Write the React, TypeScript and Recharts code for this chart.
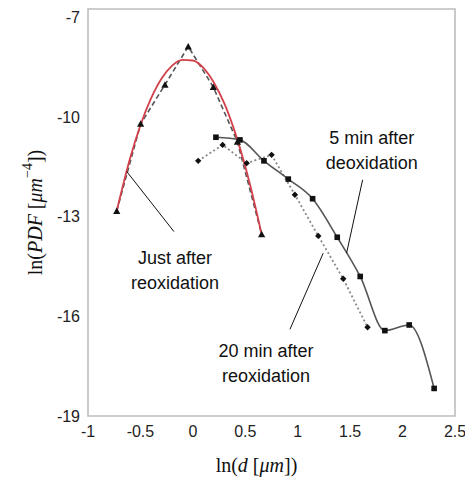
import React from 'react';
import {
  ComposedChart,
  Line,
  XAxis,
  YAxis,
  ReferenceArea,
  ReferenceLine,
  ReferenceDot,
  Label,
} from 'recharts';

// ---- data ----
const xTicks = [-1, -0.5, 0, 0.5, 1, 1.5, 2, 2.5];
const yTicks = [-19, -16, -13, -10, -7];

const justAfterX = [-0.726, -0.498, -0.266, -0.044, 0.195, 0.425, 0.656];
const justAfterY = [-12.83, -10.21, -9.03, -7.88, -9.1, -10.75, -13.53];

const fitX = [-0.726, -0.6, -0.5, -0.4, -0.3, -0.2, -0.1, 0, 0.1, 0.2, 0.3, 0.4, 0.5, 0.6, 0.656];
const fitY = [-12.83, -11.26, -10.25, -9.45, -8.85, -8.46, -8.28, -8.3, -8.52, -8.96, -9.59, -10.44, -11.49, -12.75, -13.53];

const fiveMinX = [0.22, 0.449, 0.678, 0.91, 1.142, 1.377, 1.596, 1.831, 2.063, 2.301];
const fiveMinY = [-10.61, -10.69, -11.32, -11.87, -12.46, -13.62, -14.8, -16.43, -16.26, -18.17];

const twentyMinX = [0.051, 0.284, 0.513, 0.751, 0.973, 1.196, 1.434, 1.666];
const twentyMinY = [-11.32, -10.84, -11.39, -11.14, -12.34, -13.58, -14.87, -16.33];

const annotations = [
  { lines: ['Just after', 'reoxidation'], x: -0.171, y: -14.6, from: { x: -0.631, y: -11.64 }, to: { x: -0.18, y: -13.45 } },
  { lines: ['5 min after', 'deoxidation'], x: 1.707, y: -10.99, from: { x: 1.619, y: -11.89 }, to: { x: 1.466, y: -14.1 } },
  { lines: ['20 min after', 'reoxidation'], x: 0.697, y: -17.39, from: { x: 1.243, y: -14.1 }, to: { x: 0.926, y: -16.39 } },
];

const zip = (xs: number[], ys: number[]) => xs.map((x, i) => ({ x, y: ys[i] }));
const justAfterData = zip(justAfterX, justAfterY);
const fitData = zip(fitX, fitY);
const fiveMinData = zip(fiveMinX, fiveMinY);
const twentyMinData = zip(twentyMinX, twentyMinY);

const SANS = '"Liberation Sans", Arial, sans-serif';
const SERIF = '"Liberation Serif", "DejaVu Serif", serif';

const Triangle = (p: any) => {
  const { cx, cy, index } = p;
  if (cx == null || cy == null) return <g key={`t${index}`} />;
  const s = 3.6;
  return (
    <polygon
      key={`t${index}`}
      points={`${cx},${cy - s} ${cx - s},${cy + s * 0.8} ${cx + s},${cy + s * 0.8}`}
      fill="#111"
    />
  );
};

const Square = (p: any) => {
  const { cx, cy, index } = p;
  if (cx == null || cy == null) return <g key={`s${index}`} />;
  const s = 2.8;
  return <rect key={`s${index}`} x={cx - s} y={cy - s} width={2 * s} height={2 * s} fill="#111" />;
};

const Diamond = (p: any) => {
  const { cx, cy, index } = p;
  if (cx == null || cy == null) return <g key={`d${index}`} />;
  const s = 3.2;
  return (
    <polygon
      key={`d${index}`}
      points={`${cx},${cy - s} ${cx + s},${cy} ${cx},${cy + s} ${cx - s},${cy}`}
      fill="#111"
    />
  );
};

const YTitle = (props: any) => {
  const vb = props.viewBox || { x: 28, y: 9, width: 60, height: 407 };
  const cx = vb.x + 7;
  const cy = vb.y + vb.height / 2;
  return (
    <text
      x={cx}
      y={cy}
      transform={`rotate(-90 ${cx} ${cy})`}
      textAnchor="middle"
      dominantBaseline="central"
      fontFamily={SERIF}
      fontSize={20}
      fill="#111"
    >
      ln(<tspan fontStyle="italic">PDF</tspan> [<tspan fontStyle="italic">μm</tspan>
      <tspan dy={-8} fontSize={14}>−4</tspan>
      <tspan dy={8}>])</tspan>
    </text>
  );
};

const XTitle = (props: any) => {
  const vb = props.viewBox || { x: 88, y: 416, width: 367, height: 30 };
  const cx = vb.x + vb.width / 2 - 15;
  const cy = vb.y + 56;
  return (
    <text x={cx} y={cy} textAnchor="middle" fontFamily={SERIF} fontSize={20} fill="#111">
      ln(<tspan fontStyle="italic">d</tspan> [<tspan fontStyle="italic">μm</tspan>])
    </text>
  );
};

const makeAnnot = (lines: string[]) => (p: any) => {
  const { cx, cy } = p;
  return (
    <text x={cx} y={cy} textAnchor="middle" fontFamily={SANS} fontSize={18} fill="#111">
      <tspan x={cx} dy={-6}>{lines[0]}</tspan>
      <tspan x={cx} dy={25}>{lines[1]}</tspan>
    </text>
  );
};

export default function App() {
  return (
    <div style={{ position: 'absolute', left: 0, top: 0 }}>
      <ComposedChart width={465} height={484} margin={{ top: 9, right: 10, bottom: 38, left: 28 }}>
        <XAxis
          type="number"
          dataKey="x"
          domain={[-1, 2.5]}
          ticks={xTicks}
          allowDataOverflow
          axisLine={false}
          tickLine={false}
          tickSize={0}
          tickMargin={10}
          height={30}
          interval={0}
          tick={{ fontFamily: SANS, fontSize: 16, fill: '#222' }}
        >
          <Label content={<XTitle />} />
        </XAxis>
        <YAxis
          type="number"
          domain={[-19, -6.75]}
          ticks={yTicks}
          allowDataOverflow
          axisLine={false}
          tickLine={false}
          tickSize={0}
          tickMargin={8}
          width={60}
          interval={0}
          tick={{ fontFamily: SANS, fontSize: 16, fill: '#222' }}
        >
          <Label content={<YTitle />} />
        </YAxis>
        <ReferenceArea x1={-1} x2={2.5} y1={-19} y2={-6.75} fill="none" stroke="#bdbdbd" strokeWidth={1.6} />

        <Line
          data={justAfterData}
          dataKey="y"
          type="linear"
          stroke="#555"
          strokeWidth={1.6}
          strokeDasharray="5 3"
          dot={Triangle}
          activeDot={false}
          isAnimationActive={false}
        />
        <Line
          data={twentyMinData}
          dataKey="y"
          type="linear"
          stroke="#8a8a8a"
          strokeWidth={1.8}
          strokeDasharray="2 2.5"
          dot={Diamond}
          activeDot={false}
          isAnimationActive={false}
        />
        <Line
          data={fitData}
          dataKey="y"
          type="monotone"
          stroke="#d2404a"
          strokeWidth={1.8}
          dot={false}
          activeDot={false}
          isAnimationActive={false}
        />
        <Line
          data={fiveMinData}
          dataKey="y"
          type="monotone"
          stroke="#555"
          strokeWidth={1.6}
          dot={Square}
          activeDot={false}
          isAnimationActive={false}
        />

        {annotations.map((a, i) => (
          <ReferenceLine
            key={`l${i}`}
            segment={[a.from, a.to]}
            stroke="#111"
            strokeWidth={1}
          />
        ))}
        {annotations.map((a, i) => (
          <ReferenceDot key={`a${i}`} x={a.x} y={a.y} r={1} shape={makeAnnot(a.lines)} />
        ))}
      </ComposedChart>
    </div>
  );
}
